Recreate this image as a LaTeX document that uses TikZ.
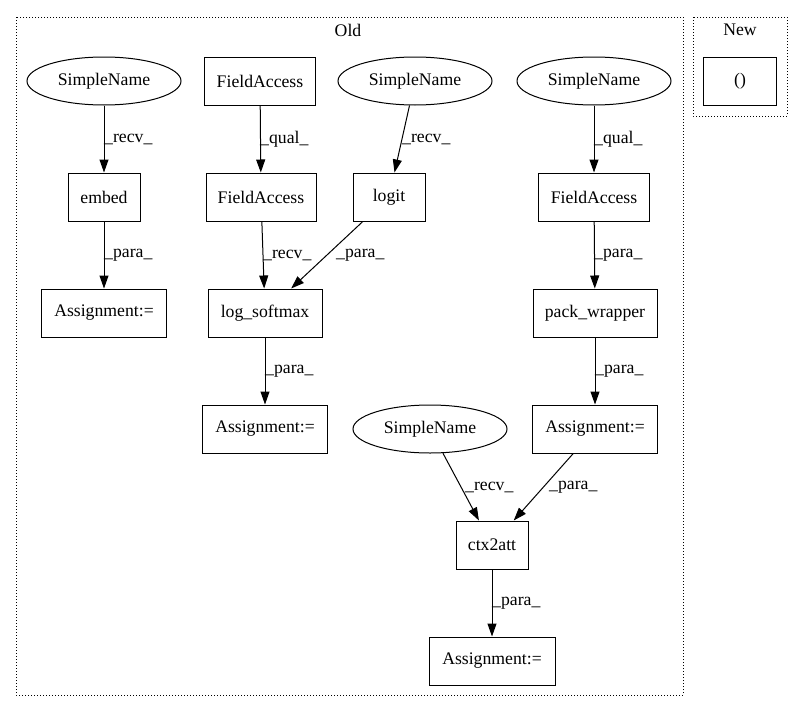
\documentclass[tikz,border=0pt]{standalone}
\usepackage{fontspec}
\setmainfont{Liberation Serif}
\usetikzlibrary{arrows.meta,shapes.geometric}
\begin{document}
\begin{tikzpicture}[x=1pt,y=-1pt,
  every node/.style={font=\fontsize{17.7}{20}\selectfont},
  box/.style={draw, line width=1pt, rectangle, minimum height=48pt, inner sep=0pt},
  oval/.style={draw, line width=1pt, ellipse, minimum height=48pt, minimum width=154pt, inner sep=0pt},
  edge/.style={-{Triangle[length=13pt,width=9pt]}, line width=1pt},
  lbl/.style={anchor=west, inner sep=0pt},
  cluster/.style={draw, dotted, line width=1pt}]
\useasboundingbox (0,0) rectangle (803,712);
% clusters
\draw[cluster] (16,17) rectangle (683,695);
\node at (348,30) {Old};
\draw[cluster] (693,17) rectangle (787,116);
\node at (740,30) {New};
\node[box, minimum width=73pt] (n0) at (740,81) {()};
% row 1
\node[oval] (sn1) at (104,81) {SimpleName};
\node[box, minimum width=111pt] (fa1) at (260,81) {FieldAccess};
\node[oval] (sn2) at (415,81) {SimpleName};
\node[oval] (sn3) at (594,81) {SimpleName};
% row 2
\node[box, minimum width=72pt] (embed) at (104,197) {embed};
\node[box, minimum width=110pt] (fa2) at (261,197) {FieldAccess};
\node[box, minimum width=72pt] (logit) at (389,197) {logit};
\node[box, minimum width=111pt] (fa3) at (594,197) {FieldAccess};
% row 3
\node[box, minimum width=125pt] (as1) at (104,313) {Assignment:=};
\node[box, minimum width=114pt] (lsm) at (265,313) {log\_softmax};
\node[box, minimum width=124pt] (pw) at (595,313) {pack\_wrapper};
% row 4
\node[box, minimum width=125pt] (as2) at (265,429) {Assignment:=};
\node[oval] (sn4) at (430,429) {SimpleName};
\node[box, minimum width=125pt] (as3) at (595,429) {Assignment:=};
% row 5
\node[box, minimum width=72pt] (ctx) at (492,545) {ctx2att};
% row 6
\node[box, minimum width=126pt] (as4) at (492,661) {Assignment:=};
% edges
\draw[edge] (sn1) -- (embed);
\node[lbl] at (104,139) {\_recv\_};
\draw[edge] (fa1) -- (fa2);
\node[lbl] at (260,139) {\_qual\_};
\draw[edge] (sn2) -- (logit);
\node[lbl] at (402,139) {\_recv\_};
\draw[edge] (sn3) -- (fa3);
\node[lbl] at (594,139) {\_qual\_};
\draw[edge] (embed) -- (as1);
\node[lbl] at (104,255) {\_para\_};
\draw[edge] (fa2) -- (lsm);
\node[lbl] at (263,255) {\_recv\_};
\draw[edge] (logit) -- (lsm);
\node[lbl] at (336,255) {\_para\_};
\draw[edge] (fa3) -- (pw);
\node[lbl] at (594,255) {\_para\_};
\draw[edge] (lsm) -- (as2);
\node[lbl] at (265,371) {\_para\_};
\draw[edge] (pw) -- (as3);
\node[lbl] at (595,371) {\_para\_};
\draw[edge] (sn4) -- (ctx);
\node[lbl] at (465,487) {\_recv\_};
\draw[edge] (as3) -- (ctx);
\node[lbl] at (549,487) {\_para\_};
\draw[edge] (ctx) -- (as4);
\node[lbl] at (492,603) {\_para\_};
\end{tikzpicture}
\end{document}
